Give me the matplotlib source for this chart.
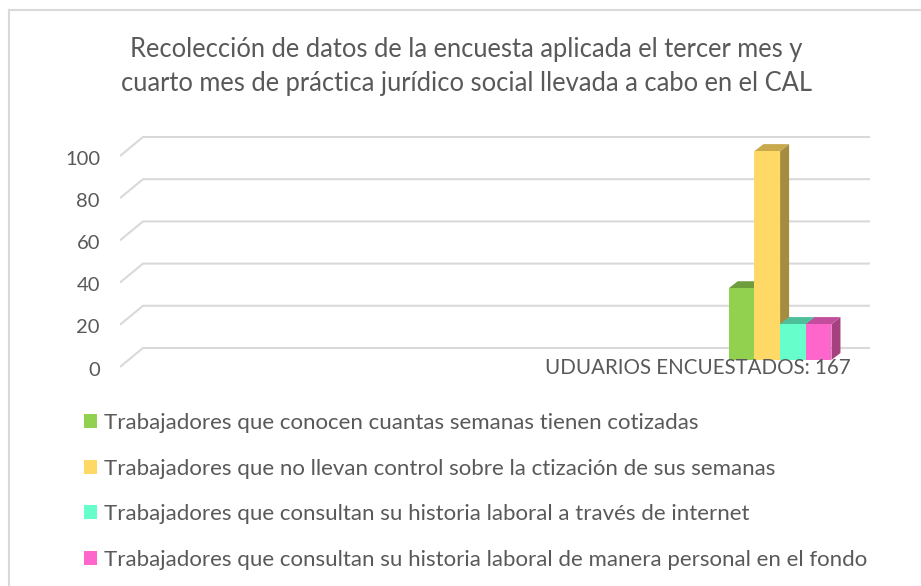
import matplotlib
matplotlib.use("Agg")
import matplotlib.pyplot as plt
from matplotlib.patches import Polygon, Patch
from matplotlib.lines import Line2D

title = ("Recolección de datos de la encuesta aplicada el tercer mes y\n"
         "cuarto mes de práctica jurídico social llevada a cabo en el CAL")
category = "UDUARIOS ENCUESTADOS: 167"
series = [
    "Trabajadores que conocen cuantas semanas tienen cotizadas",
    "Trabajadores que no llevan control sobre la ctización de sus semanas",
    "Trabajadores que consultan su historia laboral a través de internet",
    "Trabajadores que consultan su historia laboral de manera personal en el fondo",
]
values = [34, 99, 17, 17]
yticks = [0, 20, 40, 60, 80, 100]

front_colors = ["#92D050", "#FFD966", "#66FFCC", "#FF66CC"]
top_colors = ["#6E9E3C", "#C9A94E", "#4DBF9A", "#C24D9C"]
side_colors = ["#5F8A33", "#A68C3E", "#3FA383", "#A6417F"]
grid_color = "#D9D9D9"
text_color = "#595959"

plt.rcParams['font.family'] = ['Lato', 'DejaVu Sans']

W, H = 921, 586
fig = plt.figure(figsize=(W / 100, H / 100), dpi=100)


def fx(px):
    return px / W


def fy(py):
    return 1 - py / H


# chart border (cropped at right/bottom)
fig.add_artist(Line2D([fx(8.5), fx(8.5)], [fy(10), 0], color=grid_color, lw=1.5))
fig.add_artist(Line2D([fx(8.5), 1], [fy(10), fy(10)], color=grid_color, lw=1.5))

ax = fig.add_axes([fx(120), fy(368.4), 750 / W, 240.5 / H])
xmin, xmax = -5.14, 0.70
ax.set_xlim(xmin, xmax)
ax.set_ylim(-4, 110)
ax.axis('off')

# 3D wall geometry (in data units)
wall_dx = 23 / 128.4
back_dy = 12 / 2.11
front_dy = -7 / 2.11

for v in yticks:
    ax.plot([xmin, xmin + wall_dx, xmax], [v + front_dy, v + back_dy, v + back_dy],
            color=grid_color, lw=1.5, zorder=1, solid_capstyle='butt')
    ax.text(xmin - 20 / 128.4, v + front_dy - 1.5, str(v), ha='right', va='center',
            fontsize=14.5, color=text_color)

# bars
width = 0.2
bdx = 9 / 128.4
bdy = 7 / 2.11
n = len(values)
xs = [(i - (n - 1) / 2) * width for i in range(n)]
for i, (x, v) in enumerate(zip(xs, values)):
    z = 3 + i * 3
    l, r = x - width / 2, x + width / 2
    ax.add_patch(Polygon([(r, 0), (r + bdx, bdy), (r + bdx, v + bdy), (r, v)],
                         closed=True, facecolor=side_colors[i], edgecolor='none', zorder=z))
    ax.add_patch(Polygon([(l, v), (l + bdx, v + bdy), (r + bdx, v + bdy), (r, v)],
                         closed=True, facecolor=top_colors[i], edgecolor='none', zorder=z))
    ax.bar([x], [v], width=width, color=front_colors[i], zorder=z + 1)

ax.text(-0.64, front_dy - 0.5, category, ha='center', va='center', fontsize=14.8,
        color=text_color, zorder=20)

fig.text(fx(466), fy(66.5), title, ha='center', va='center', fontsize=18.4,
         color=text_color, linespacing=1.5)

handles = [Patch(facecolor=c, edgecolor='none') for c in front_colors]
fig.legend(handles, series, loc='upper left', bbox_to_anchor=(fx(84), fy(413)),
           frameon=False, fontsize=16, handlelength=0.59, handleheight=0.59,
           handletextpad=0.3, labelspacing=1.15, labelcolor=text_color,
           borderaxespad=0, borderpad=0)

fig.savefig("out.png", dpi=100)
